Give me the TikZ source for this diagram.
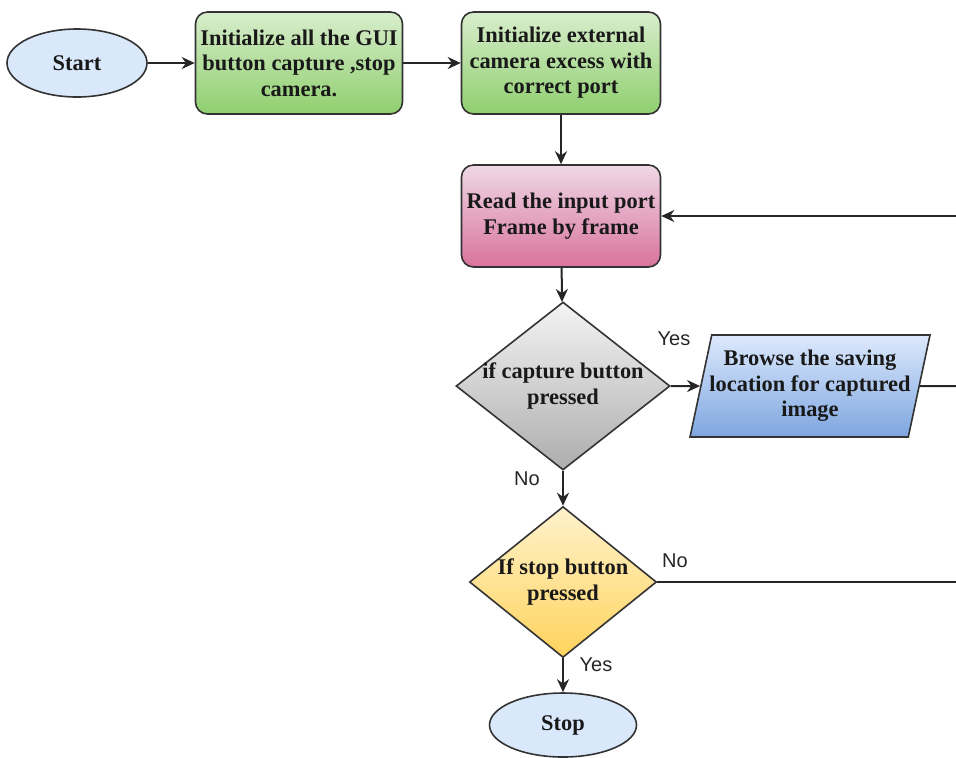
\documentclass[tikz,border=0pt]{standalone}
\usepackage{fontspec}
\setmainfont{Liberation Serif}
\newfontfamily\lblfont{Liberation Sans}
\usetikzlibrary{shapes.geometric,arrows.meta}
\definecolor{termfill}{HTML}{DAE8FC}
\definecolor{greentop}{HTML}{D8EDCC}
\definecolor{greenbot}{HTML}{8FCF6F}
\definecolor{pinktop}{HTML}{EFD8E6}
\definecolor{pinkbot}{HTML}{D9739E}
\definecolor{graytop}{HTML}{F4F4F4}
\definecolor{graybot}{HTML}{ADADAD}
\definecolor{bluetop}{HTML}{DCE9FC}
\definecolor{bluebot}{HTML}{7EA6E0}
\definecolor{yellowtop}{HTML}{FFF2CC}
\definecolor{yellowbot}{HTML}{FFD35C}
\tikzset{
  boxtext/.style={font=\bfseries\fontsize{11.2}{12.8}\selectfont,align=center,text=black!90},
  term/.style={ellipse,draw=black!80,line width=0.8pt,fill=termfill,boxtext},
  proc/.style={rectangle,rounded corners=6pt,draw=black!80,line width=0.8pt,boxtext,inner sep=0pt,minimum height=51pt},
  decision/.style={diamond,draw=black!80,line width=0.8pt,boxtext,inner sep=-4pt},
  iobox/.style={trapezium,trapezium left angle=70,trapezium right angle=110,trapezium stretches body,draw=black!80,line width=0.8pt,boxtext,inner sep=-3pt},
  flow/.style={line width=1pt,draw=black!85,-{Stealth[length=6.5pt,width=6pt]}},
  flowplain/.style={line width=1pt,draw=black!85},
  lbl/.style={font=\lblfont\fontsize{10}{12}\selectfont,text=black!85}
}
\begin{document}
\begin{tikzpicture}[x=0.5pt,y=-0.5pt]
\useasboundingbox (0,0) rectangle (956,757);
%terminals and steps
\node[term,minimum width=70pt,minimum height=34pt] (start) at (77,63) {Start};
\node[proc,minimum width=103.5pt,top color=greentop,bottom color=greenbot] (gui) at (299,63) {Initialize all the GUI\\button capture ,stop\\camera.};
\node[proc,minimum width=99.5pt,top color=greentop,bottom color=greenbot] (ext) at (561,63) {Initialize external\\camera excess with\\correct port};
\node[proc,minimum width=99.5pt,top color=pinktop,bottom color=pinkbot] (read) at (561,216) {Read the input port\\Frame by frame};
%decisions
\node[decision,minimum width=107pt,minimum height=84pt,aspect=1.27,top color=graytop,bottom color=graybot] (capq) at (563,386) {if capture button\\pressed};
\node[iobox,minimum width=120pt,minimum height=51pt,top color=bluetop,bottom color=bluebot] (browse) at (810,386) {Browse the saving\\location for captured\\image};
\node[decision,minimum width=93.5pt,minimum height=75.5pt,aspect=1.24,top color=yellowtop,bottom color=yellowbot] (stopq) at (563,582) {If stop button\\pressed};
\node[term,minimum width=73.5pt,minimum height=32pt] (stop) at (563,725) {Stop};
%free ends at the right border
\coordinate (backin) at (956,216);
\coordinate (saveout) at (956,386);
\coordinate (loopout) at (956,582);
%connectors
\draw[flow] (start) -- (gui);
\draw[flow] (gui) -- (ext);
\draw[flow] (ext) -- (read);
\draw[flow] (read) -- (capq);
\draw[flow] (capq) -- (browse);
\draw[flow] (capq) -- (stopq);
\draw[flow] (stopq) -- (stop);
\draw[flow] (backin) -- (read);
\draw[flowplain] (browse.east) -- (saveout);
\draw[flowplain] (stopq.east) -- (loopout);
%branch labels
\node[lbl] (capyes) at (674,339) {Yes};
\node[lbl] (capno) at (527,479) {No};
\node[lbl] (stopno) at (675,561) {No};
\node[lbl] (stopyes) at (596,665) {Yes};
\end{tikzpicture}
\end{document}
